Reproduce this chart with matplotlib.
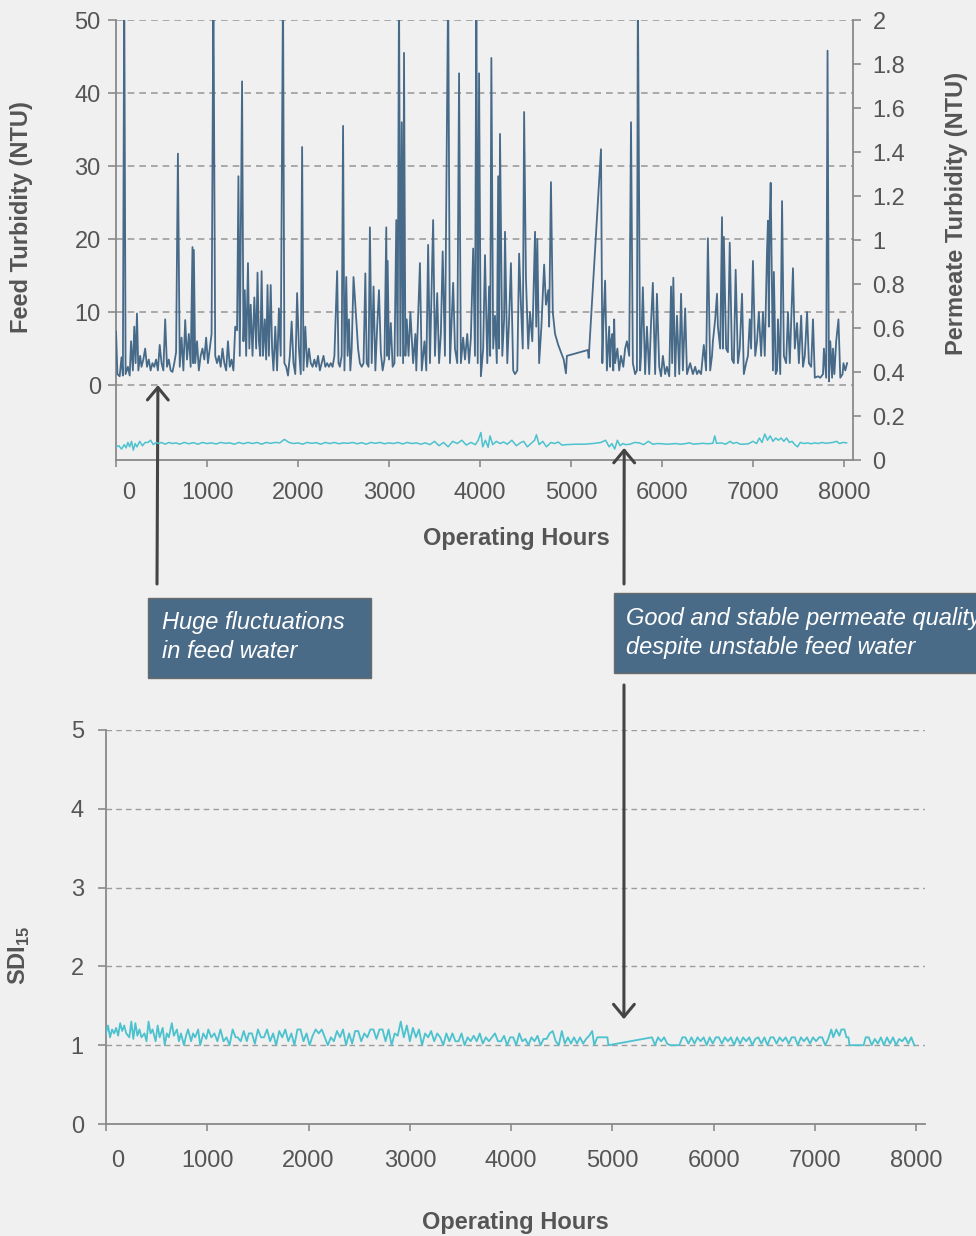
import matplotlib
matplotlib.use("Agg")
import matplotlib.pyplot as plt
from matplotlib.patches import Rectangle
from matplotlib.transforms import ScaledTranslation

# ─── data ──────────────────────────────────────────────
hour_ticks = [0, 1000, 2000, 3000, 4000, 5000, 6000, 7000, 8000]
feed_ticks = [0, 10, 20, 30, 40, 50]
perm_ticks = [0, 0.2, 0.4, 0.6, 0.8, 1.0, 1.2, 1.4, 1.6, 1.8, 2.0]
sdi_ticks = [0, 1, 2, 3, 4, 5]

# feed turbidity (hours, NTU); spikes above 50 run off the top of the axis
feed_points = [
    (0, 7.3), (15, 1.5), (40, 1.2), (60, 3.8), (75, 1.3), (90, 55), (105, 1.5),
    (130, 2.5), (150, 1.3), (165, 6), (185, 2), (200, 8), (215, 3), (230, 9.8),
    (245, 2), (265, 4), (280, 2.5), (300, 3.5), (320, 5), (340, 2.5), (360, 3.5),
    (380, 2), (400, 3), (420, 2.5), (440, 3.5), (460, 2), (480, 5.5), (500, 3),
    (520, 2), (540, 9), (560, 2.5), (580, 3.5), (600, 2), (620, 1.8), (640, 3),
    (660, 4.5), (680, 31.7), (700, 2.5), (720, 6.5), (740, 2), (760, 8.9),
    (780, 3.5), (800, 7), (820, 2.5), (840, 18.9), (848, 3), (855, 18.5),
    (870, 3), (890, 6), (910, 2), (930, 4), (950, 5), (970, 3.5), (990, 6.5),
    (1010, 3), (1030, 5), (1050, 7), (1070, 55), (1090, 4), (1110, 3),
    (1130, 4), (1150, 2.5), (1170, 5), (1190, 3), (1210, 2), (1230, 6),
    (1250, 2.5), (1270, 3.5), (1290, 2), (1310, 8), (1330, 7.5), (1345, 28.6),
    (1360, 4), (1385, 41.6), (1400, 6), (1415, 13), (1430, 4), (1450, 16.7),
    (1465, 5), (1480, 11), (1500, 4), (1520, 12), (1540, 5), (1555, 15.4),
    (1570, 6), (1585, 4), (1600, 15.6), (1615, 4), (1635, 9), (1650, 3.5),
    (1665, 13.7), (1680, 4), (1700, 13.7), (1715, 5), (1730, 2), (1750, 8),
    (1770, 2), (1790, 10.5), (1810, 4), (1835, 55), (1850, 3), (1870, 2.5),
    (1890, 1.3), (1910, 4), (1930, 8.7), (1950, 3), (1970, 1.5), (1990, 12.6),
    (2010, 5), (2030, 1.5), (2045, 32.6), (2060, 2), (2080, 8), (2100, 2.5),
    (2120, 5), (2140, 3), (2160, 2.5), (2180, 3.5), (2200, 2.5), (2220, 4),
    (2240, 2), (2260, 3), (2280, 4), (2300, 2.5), (2320, 3), (2340, 2.5),
    (2360, 3), (2380, 2.5), (2400, 4), (2430, 15.6), (2445, 3), (2460, 2.5),
    (2480, 4), (2495, 35.5), (2510, 2), (2530, 14.8), (2545, 4), (2560, 9),
    (2575, 2), (2590, 5), (2610, 14.8), (2625, 12), (2645, 8), (2660, 5),
    (2680, 3), (2700, 2.5), (2720, 3), (2740, 15.3), (2755, 3), (2775, 2.5),
    (2790, 21.6), (2810, 3), (2830, 13.5), (2850, 2), (2870, 8), (2890, 13),
    (2910, 4.5), (2930, 2), (2950, 3.5), (2970, 21.6), (2978, 4), (2985, 17),
    (3000, 3.5), (3020, 8.5), (3040, 2.5), (3060, 3), (3080, 22.6), (3095, 4),
    (3110, 55), (3125, 4), (3140, 36), (3155, 3), (3165, 45.5), (3180, 4),
    (3195, 9), (3215, 4), (3235, 10), (3265, 3), (3290, 7), (3300, 2),
    (3340, 16.7), (3360, 2), (3390, 6), (3410, 2), (3430, 19.2), (3450, 3),
    (3485, 22.6), (3505, 4), (3530, 12.6), (3550, 3), (3570, 7), (3590, 18.3),
    (3615, 4), (3650, 55), (3670, 3), (3705, 14), (3725, 5), (3750, 3),
    (3770, 42.7), (3790, 3), (3815, 6.5), (3835, 3.5), (3860, 7), (3880, 3),
    (3900, 6.5), (3925, 18.7), (3945, 4), (3960, 55), (3975, 3), (3990, 42.7),
    (4010, 1.2), (4035, 5), (4055, 17.8), (4080, 3), (4100, 13.5), (4112, 4),
    (4125, 44.8), (4145, 5), (4165, 9.5), (4185, 3), (4200, 28.6), (4210, 5),
    (4220, 34.4), (4245, 4), (4265, 9), (4275, 21), (4300, 3), (4320, 9),
    (4340, 16.7), (4365, 2), (4385, 1.5), (4410, 2), (4430, 18), (4450, 11),
    (4470, 5), (4485, 37.4), (4505, 14.7), (4530, 5), (4550, 10), (4575, 6),
    (4605, 21), (4618, 8), (4630, 20), (4650, 3), (4675, 8), (4705, 16.5),
    (4725, 11), (4750, 13), (4760, 8), (4780, 27.8), (4800, 10), (4825, 7),
    (4860, 5.5), (4890, 4.5), (4920, 3.5), (4945, 1.6), (4955, 4), (5185, 4.8),
    (5195, 3.7), (5330, 32.3), (5345, 3), (5355, 8), (5375, 14.3), (5395, 2),
    (5420, 8), (5430, 2.5), (5440, 6), (5455, 7), (5465, 2), (5475, 9),
    (5485, 3), (5510, 5), (5530, 2), (5550, 4), (5575, 2.5), (5595, 5),
    (5615, 6), (5640, 4), (5660, 36), (5680, 3), (5705, 1.5), (5725, 2),
    (5735, 55), (5760, 2), (5770, 4), (5790, 13.4), (5815, 1.5), (5835, 8),
    (5860, 1.5), (5880, 8.5), (5900, 14), (5925, 1.5), (5945, 12.5),
    (5970, 2.5), (5990, 1.2), (6010, 4), (6035, 1.5), (6055, 2.5), (6080, 1.2),
    (6100, 13.5), (6112, 3), (6125, 14.7), (6145, 1.2), (6165, 9.5),
    (6190, 1.5), (6210, 12.5), (6230, 2), (6255, 10.5), (6275, 1.5), (6310, 3),
    (6340, 1.5), (6365, 2.5), (6385, 1.5), (6405, 2), (6430, 1.5), (6460, 5.5),
    (6485, 2), (6505, 20.1), (6530, 2), (6550, 4), (6560, 6), (6585, 9),
    (6605, 12.5), (6615, 8), (6640, 5), (6660, 23), (6670, 5), (6680, 20.3),
    (6705, 5), (6725, 4.5), (6745, 19.5), (6770, 3.5), (6790, 3), (6810, 15.8),
    (6835, 3), (6855, 5), (6880, 12.5), (6900, 1.5), (6925, 3), (6945, 4),
    (6965, 9), (6980, 5), (7000, 17), (7025, 4), (7045, 6), (7065, 10),
    (7090, 4), (7110, 10), (7130, 4), (7155, 18.5), (7165, 22.5), (7175, 8),
    (7185, 23), (7195, 27.7), (7220, 2), (7230, 15.5), (7250, 1.5), (7265, 2),
    (7275, 9), (7300, 1.5), (7320, 25.2), (7340, 4), (7365, 3), (7385, 10),
    (7405, 3), (7440, 16), (7460, 5), (7485, 8.5), (7505, 3), (7530, 9.5),
    (7550, 2.5), (7570, 4), (7595, 10), (7615, 3), (7640, 2.5), (7660, 9),
    (7680, 1), (7715, 1.2), (7740, 1), (7770, 1.5), (7780, 5), (7805, 1),
    (7820, 45.8), (7835, 0.5), (7850, 6), (7870, 1), (7880, 5), (7895, 1.5),
    (7915, 6), (7940, 9), (7960, 1), (7985, 1.5), (7995, 3), (8015, 2),
    (8035, 3),
]

# permeate turbidity (hours, NTU)
permeate_points = [
    (0, 0.06), (30, 0.065), (60, 0.05), (90, 0.07), (110, 0.055), (130, 0.08),
    (150, 0.06), (170, 0.085), (190, 0.045), (210, 0.075), (230, 0.06),
    (260, 0.085), (290, 0.065), (320, 0.08), (350, 0.08), (380, 0.09),
    (410, 0.07), (440, 0.08), (470, 0.075), (500, 0.08), (540, 0.072),
    (580, 0.08), (620, 0.075), (660, 0.078), (700, 0.072), (750, 0.08),
    (800, 0.074), (850, 0.079), (900, 0.072), (950, 0.08), (1000, 0.075),
    (1050, 0.078), (1100, 0.073), (1150, 0.08), (1200, 0.076), (1250, 0.078),
    (1300, 0.072), (1350, 0.08), (1400, 0.074), (1450, 0.08), (1500, 0.075),
    (1550, 0.08), (1600, 0.072), (1650, 0.08), (1700, 0.076), (1750, 0.08),
    (1800, 0.078), (1850, 0.094), (1900, 0.08), (1950, 0.075), (2000, 0.078),
    (2050, 0.072), (2100, 0.08), (2150, 0.076), (2200, 0.079), (2250, 0.072),
    (2300, 0.08), (2350, 0.075), (2400, 0.08), (2450, 0.074), (2500, 0.078),
    (2550, 0.076), (2600, 0.08), (2650, 0.074), (2700, 0.079), (2750, 0.072),
    (2800, 0.08), (2850, 0.076), (2900, 0.08), (2950, 0.074), (3000, 0.078),
    (3050, 0.075), (3100, 0.08), (3150, 0.073), (3200, 0.08), (3250, 0.075),
    (3300, 0.078), (3350, 0.072), (3400, 0.078), (3450, 0.07), (3500, 0.085),
    (3550, 0.065), (3600, 0.08), (3650, 0.06), (3700, 0.085), (3750, 0.075),
    (3800, 0.09), (3850, 0.068), (3900, 0.08), (3950, 0.07), (3980, 0.09),
    (4010, 0.125), (4030, 0.06), (4060, 0.09), (4090, 0.058), (4110, 0.11),
    (4140, 0.07), (4180, 0.085), (4220, 0.075), (4260, 0.082), (4300, 0.072),
    (4350, 0.09), (4400, 0.065), (4450, 0.08), (4480, 0.085), (4520, 0.06),
    (4560, 0.075), (4600, 0.09), (4620, 0.115), (4650, 0.07), (4690, 0.085),
    (4730, 0.06), (4780, 0.08), (4820, 0.075), (4860, 0.082), (4900, 0.068),
    (4950, 0.07), (5050, 0.072), (5150, 0.072), (5240, 0.075), (5330, 0.08),
    (5380, 0.09), (5420, 0.06), (5450, 0.075), (5480, 0.05), (5510, 0.09),
    (5540, 0.065), (5570, 0.075), (5600, 0.07), (5650, 0.072), (5700, 0.08),
    (5750, 0.078), (5800, 0.07), (5850, 0.085), (5900, 0.072), (5950, 0.075),
    (6000, 0.074), (6050, 0.072), (6100, 0.073), (6150, 0.075), (6200, 0.072),
    (6250, 0.074), (6300, 0.078), (6350, 0.072), (6400, 0.074), (6450, 0.076),
    (6500, 0.074), (6560, 0.076), (6580, 0.11), (6600, 0.076), (6650, 0.078),
    (6700, 0.072), (6750, 0.085), (6780, 0.075), (6820, 0.08), (6860, 0.072),
    (6900, 0.072), (6950, 0.074), (7000, 0.085), (7040, 0.075), (7070, 0.1),
    (7100, 0.08), (7130, 0.118), (7160, 0.09), (7190, 0.11), (7220, 0.085),
    (7250, 0.1), (7280, 0.09), (7310, 0.1), (7340, 0.085), (7370, 0.1),
    (7400, 0.08), (7430, 0.085), (7460, 0.07), (7490, 0.06), (7520, 0.08),
    (7560, 0.075), (7600, 0.078), (7640, 0.074), (7680, 0.078), (7720, 0.075),
    (7760, 0.08), (7800, 0.076), (7840, 0.078), (7880, 0.08), (7920, 0.085),
    (7950, 0.075), (7990, 0.08), (8030, 0.078),
]

# SDI15 (hours, -)
sdi_points = [
    (0, 1.15), (20, 1.25), (40, 1.1), (60, 1.2), (80, 1.15), (100, 1.22),
    (120, 1.12), (140, 1.28), (160, 1.18), (180, 1.25), (200, 1.15), (230, 1.1),
    (250, 1.3), (270, 1.08), (290, 1.28), (310, 1.12), (330, 1.2), (350, 1.1),
    (380, 1.15), (400, 1.05), (420, 1.3), (440, 1.15), (460, 1.2), (490, 1.05),
    (510, 1.25), (530, 1.1), (560, 1.22), (580, 1.0), (600, 1.15), (620, 1.1),
    (650, 1.28), (670, 1.12), (700, 1.2), (720, 1.05), (740, 1.15), (770, 1.0),
    (790, 1.12), (810, 1.2), (840, 1.05), (860, 1.15), (880, 1.1), (910, 1.2),
    (930, 1.0), (960, 1.15), (990, 1.08), (1010, 1.2), (1040, 1.1), (1070, 1.15),
    (1100, 1.05), (1130, 1.2), (1160, 1.05), (1190, 1.1), (1220, 1.0),
    (1250, 1.2), (1280, 1.1), (1300, 1.1), (1330, 1.05), (1360, 1.18),
    (1390, 1.05), (1410, 1.15), (1440, 1.15), (1470, 1.02), (1500, 1.2),
    (1530, 1.1), (1560, 1.1), (1590, 1.2), (1620, 1.05), (1650, 1.15),
    (1680, 1.0), (1710, 1.18), (1740, 1.1), (1770, 1.2), (1800, 1.05),
    (1830, 1.15), (1860, 1.0), (1890, 1.2), (1920, 1.2), (1950, 1.05),
    (1980, 1.15), (2010, 1.0), (2040, 1.12), (2070, 1.2), (2100, 1.15),
    (2130, 1.2), (2160, 1.1), (2190, 1.0), (2220, 1.1), (2250, 1.05),
    (2280, 1.18), (2310, 1.1), (2340, 1.2), (2370, 1.0), (2400, 1.15),
    (2430, 1.02), (2460, 1.18), (2490, 1.18), (2520, 1.05), (2550, 1.15),
    (2580, 1.1), (2610, 1.2), (2640, 1.2), (2670, 1.08), (2700, 1.2),
    (2730, 1.2), (2760, 1.05), (2790, 1.2), (2820, 1.0), (2850, 1.15),
    (2880, 1.12), (2910, 1.3), (2940, 1.1), (2970, 1.25), (3000, 1.05),
    (3030, 1.22), (3060, 1.1), (3090, 1.2), (3120, 1.0), (3150, 1.15),
    (3180, 1.1), (3210, 1.18), (3240, 1.05), (3270, 1.15), (3300, 1.1),
    (3330, 1.0), (3360, 1.15), (3390, 1.05), (3420, 1.15), (3450, 1.05),
    (3480, 1.05), (3510, 1.15), (3540, 1.0), (3570, 1.1), (3600, 1.05),
    (3630, 1.12), (3660, 1.05), (3690, 1.15), (3720, 1.02), (3750, 1.1),
    (3780, 1.05), (3810, 1.1), (3840, 1.15), (3870, 1.05), (3900, 1.05),
    (3930, 1.12), (3960, 1.0), (3990, 1.1), (4020, 1.1), (4050, 1.0),
    (4080, 1.15), (4110, 1.05), (4140, 1.08), (4170, 1.0), (4200, 1.1),
    (4230, 1.05), (4260, 1.12), (4290, 1.0), (4320, 1.08), (4350, 1.08),
    (4380, 1.15), (4410, 1.18), (4440, 1.05), (4470, 1.0), (4500, 1.18),
    (4530, 1.02), (4560, 1.1), (4590, 1.02), (4620, 1.1), (4650, 1.02),
    (4680, 1.1), (4710, 1.02), (4740, 1.08), (4770, 1.12), (4800, 1.18),
    (4820, 1.0), (4850, 1.1), (4900, 1.1), (4950, 1.1), (4960, 1.0),
    (5390, 1.1), (5420, 1.0), (5450, 1.1), (5480, 1.05), (5510, 1.1),
    (5540, 1.02), (5570, 1.0), (5660, 1.0), (5690, 1.1), (5720, 1.1),
    (5750, 1.02), (5780, 1.1), (5810, 1.02), (5840, 1.1), (5870, 1.05),
    (5900, 1.1), (5930, 1.0), (5960, 1.1), (5990, 1.02), (6020, 1.1),
    (6050, 1.1), (6080, 1.02), (6110, 1.1), (6140, 1.05), (6170, 1.1),
    (6200, 1.0), (6230, 1.1), (6260, 1.02), (6290, 1.1), (6320, 1.05),
    (6350, 1.1), (6380, 1.0), (6410, 1.08), (6440, 1.1), (6470, 1.02),
    (6500, 1.1), (6530, 1.0), (6560, 1.1), (6590, 1.1), (6620, 1.02),
    (6650, 1.1), (6680, 1.05), (6710, 1.1), (6740, 1.02), (6770, 1.1),
    (6800, 1.1), (6830, 1.0), (6860, 1.1), (6890, 1.05), (6920, 1.1),
    (6950, 1.02), (6980, 1.1), (7010, 1.05), (7040, 1.1), (7070, 1.1),
    (7100, 1.0), (7130, 1.08), (7160, 1.2), (7180, 1.1), (7210, 1.2),
    (7240, 1.12), (7260, 1.2), (7290, 1.2), (7310, 1.1), (7330, 1.1),
    (7340, 1.0), (7480, 1.0), (7500, 1.1), (7530, 1.1), (7560, 1.0),
    (7590, 1.08), (7620, 1.02), (7650, 1.1), (7680, 1.0), (7710, 1.1),
    (7740, 1.02), (7770, 1.1), (7800, 1.0), (7830, 1.08), (7860, 1.05),
    (7890, 1.1), (7920, 1.02), (7950, 1.1), (7980, 1.0),
]

feed_h, feed_v = zip(*feed_points)
perm_h, perm_v = zip(*permeate_points)
sdi_h, sdi_v = zip(*sdi_points)

# ─── style ─────────────────────────────────────────────
BG = "#f0f0f0"
TXT = "#555555"
FEED_C = "#476a89"
PERM_C = "#4cc2ce"
BOX_C = "#4a6b88"
GRID_C = "#9c9c9c"
SPINE_C = "#8a8a8a"
ARROW_C = "#444444"
FS = 17

plt.rcParams["font.family"] = ["Liberation Sans", "DejaVu Sans"]
plt.rcParams["mathtext.fontset"] = "custom"
plt.rcParams["mathtext.rm"] = "Liberation Sans"
plt.rcParams["mathtext.bf"] = "Liberation Sans:bold"

fig = plt.figure(figsize=(9.76, 12.36), dpi=100, facecolor=BG)


def style_spines(ax, visible):
    for side, sp in ax.spines.items():
        sp.set_visible(side in visible)
        sp.set_color(SPINE_C)
        sp.set_linewidth(1.3)


def shift_first_label(ax, dx_px):
    # Excel puts the "0" a bit to the right of the axis
    lab = ax.get_xticklabels()[0]
    lab.set_transform(lab.get_transform()
                      + ScaledTranslation(dx_px / 100, 0, fig.dpi_scale_trans))


# ─── top panel: feed / permeate turbidity ─────────────
ax1 = fig.add_axes([0.1189, 0.6278, 0.7551, 0.3560])
ax1.set_facecolor("none")
ax1.plot(feed_h, feed_v, color=FEED_C, lw=1.3, zorder=3)
ax1.set_xlim(0, 8100)
ax1.set_ylim(-10.27, 50)
ax1.set_yticks(feed_ticks)
ax1.set_xticks(hour_ticks)
ax1.grid(axis="y", color=GRID_C, ls=(0, (4, 3)), lw=1.2)
ax1.set_axisbelow(True)
style_spines(ax1, ["left", "bottom"])
ax1.tick_params(axis="y", direction="out", length=6, width=1.2, color=SPINE_C,
                labelsize=FS, labelcolor=TXT, pad=5)
ax1.tick_params(axis="x", direction="out", length=5, width=1.2, color=SPINE_C,
                labelsize=FS, labelcolor=TXT, pad=11)
ax1.set_xlabel("Operating Hours", fontsize=FS, fontweight="bold", color=TXT)
ax1.xaxis.set_label_coords(0.543, -0.152)
ax1.set_ylabel("Feed Turbidity (NTU)", fontsize=FS, fontweight="bold", color=TXT)
ax1.yaxis.set_label_coords(-0.113, 0.552)

ax2 = ax1.twinx()
ax2.plot(perm_h, perm_v, color=PERM_C, lw=1.1, zorder=3)
ax2.set_ylim(0, 2)
ax2.set_yticks(perm_ticks)
ax2.set_yticklabels([f"{t:g}" for t in perm_ticks])
style_spines(ax2, ["right"])
ax2.tick_params(axis="y", direction="out", length=6, width=1.2, color=SPINE_C,
                labelsize=FS, labelcolor=TXT, pad=8)
ax2.set_ylabel("Permeate Turbidity (NTU)", fontsize=FS, fontweight="bold",
               color=TXT)
ax2.yaxis.set_label_coords(1.125, 0.561)

# ─── bottom panel: SDI15 ──────────────────────────────
ax3 = fig.add_axes([0.1086, 0.0906, 0.8391, 0.3188])
ax3.set_facecolor("none")
ax3.plot(sdi_h, sdi_v, color=PERM_C, lw=1.3, zorder=3)
ax3.set_xlim(0, 8085)
ax3.set_ylim(0, 5)
ax3.set_yticks(sdi_ticks)
ax3.set_xticks(hour_ticks)
ax3.grid(axis="y", color=GRID_C, ls=(0, (4, 3)), lw=1.0)
ax3.set_axisbelow(True)
style_spines(ax3, ["left", "bottom"])
ax3.tick_params(axis="y", direction="out", length=6, width=1.2, color=SPINE_C,
                labelsize=FS, labelcolor=TXT, pad=10)
ax3.tick_params(axis="x", direction="out", length=5, width=1.2, color=SPINE_C,
                labelsize=FS, labelcolor=TXT, pad=14)
ax3.set_xlabel("Operating Hours", fontsize=FS, fontweight="bold", color=TXT)
ax3.xaxis.set_label_coords(0.5, -0.222)
ax3.set_ylabel(r"$\mathbf{SDI}_{\mathbf{15}}$", fontsize=FS, color=TXT)
ax3.yaxis.set_label_coords(-0.09, 0.429)

shift_first_label(ax1, 13)
shift_first_label(ax3, 12)

# ─── call-out boxes ───────────────────────────────────
W, H = 976, 1236


def fx(px):
    return px / W


def fy(py):
    return 1 - py / H


fig.add_artist(Rectangle((fx(148), fy(678)), 223 / W, 80 / H,
                         transform=fig.transFigure, facecolor=BOX_C,
                         edgecolor="#6a6a6a", lw=1.0))
fig.add_artist(Rectangle((fx(614), fy(673)), 400 / W, 80 / H,
                         transform=fig.transFigure, facecolor=BOX_C,
                         edgecolor="#6a6a6a", lw=1.0))
fig.text(fx(162), fy(637), "Huge fluctuations\nin feed water", color="white",
         fontsize=FS, style="italic", va="center", ha="left", linespacing=1.35)
# the reference box runs off the right edge, cutting the last word short
fig.text(fx(626), fy(633),
         "Good and stable permeate quality\ndespite unstable feed water",
         color="white", fontsize=FS, style="italic", va="center", ha="left",
         linespacing=1.35)

# ─── arrows ───────────────────────────────────────────
arrow = dict(arrowstyle="->,head_length=0.6,head_width=0.5", color=ARROW_C,
             lw=2.2, shrinkA=0, shrinkB=0, mutation_scale=15)
ax1.annotate("", xy=(460, 0), xycoords="data",
             xytext=(fx(157), fy(584)), textcoords="figure fraction",
             arrowprops=arrow, annotation_clip=False)
ax2.annotate("", xy=(5585, 0.055), xycoords="data",
             xytext=(fx(624), fy(584)), textcoords="figure fraction",
             arrowprops=arrow, annotation_clip=False)
ax3.annotate("", xy=(5113, 1.33), xycoords="data",
             xytext=(fx(624), fy(685)), textcoords="figure fraction",
             arrowprops=arrow, annotation_clip=False)

fig.savefig("out.png", dpi=100, facecolor=BG)
